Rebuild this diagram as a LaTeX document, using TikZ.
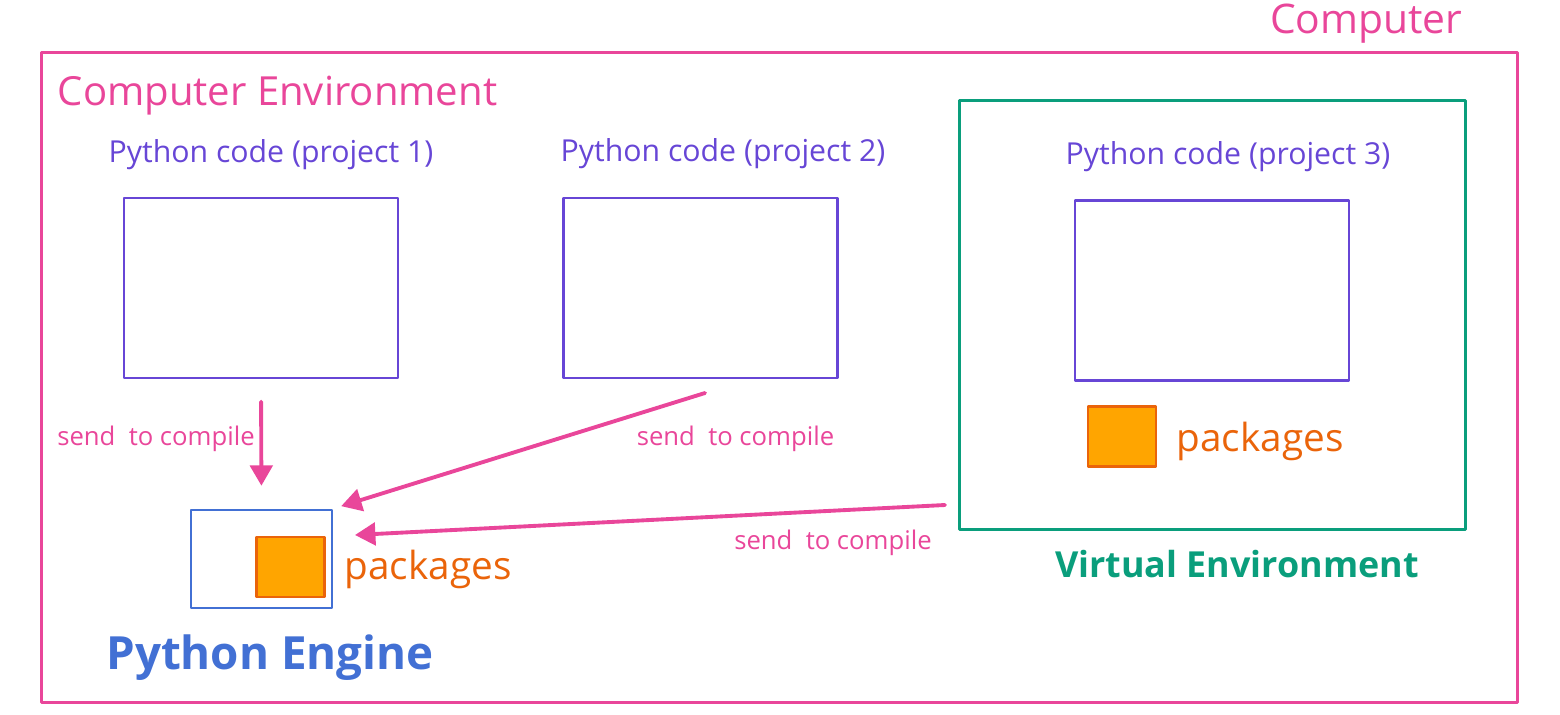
\documentclass[tikz,border=0pt]{standalone}
\usepackage{fontspec}
\setmainfont{Open Sans}
\usetikzlibrary{arrows.meta}
\definecolor{comppink}{RGB}{233,70,154}
\definecolor{codeviolet}{RGB}{103,70,214}
\definecolor{engblue}{RGB}{66,112,212}
\definecolor{envgreen}{RGB}{10,158,124}
\definecolor{pkgfill}{RGB}{255,165,0}
\definecolor{pkgline}{RGB}{234,100,10}
\tikzset{
  codebox/.style={draw=codeviolet, line width=0.8pt, minimum width=2.74cm, minimum height=1.8cm, inner sep=0pt},
  codelbl/.style={text=codeviolet, inner sep=0pt, font=\fontsize{8.6}{10}\selectfont},
  pkgbox/.style={draw=pkgline, fill=pkgfill, line width=0.6pt, minimum width=0.68cm, minimum height=0.6cm, inner sep=0pt},
  pkglbl/.style={text=pkgline, inner sep=0pt, anchor=west, font=\fontsize{11}{13}\selectfont},
  sendarrow/.style={draw=comppink, line width=1.1pt, -{Triangle[length=5.8pt,width=6.4pt]}},
  sendlbl/.style={text=comppink, inner sep=0pt, font=\fontsize{7.3}{9}\selectfont},
}
\begin{document}
\begin{tikzpicture}[x=0.01cm, y=-0.01cm, line cap=round, line join=round]
  \useasboundingbox (0,0) rectangle (1560,715);
  % computer and its environment
  \node[draw=comppink, line width=0.9pt, minimum width=14.75cm, minimum height=6.49cm, inner sep=0pt] (computer) at (779.5,377.5) {};
  \node[text=comppink, inner sep=0pt, anchor=east, font=\fontsize{11.6}{14}\selectfont] (computerlbl) at (1463,24) {Computer};
  \node[text=comppink, inner sep=0pt, anchor=west, font=\fontsize{11.4}{14}\selectfont] (envlbl) at (57,96) {Computer Environment};
  % virtual environment
  \node[draw=envgreen, line width=0.8pt, minimum width=5.05cm, minimum height=4.28cm, inner sep=0pt] (venv) at (1212.5,315) {};
  \node[text=envgreen, inner sep=0pt, font=\fontsize{10.2}{12}\selectfont\bfseries] (venvlbl) at (1237,564) {Virtual Environment};
  % python code boxes
  \foreach \n/\cx/\cy/\lx/\ly in {1/261/288/271/155, 2/700.5/288/723/154, 3/1212/290.5/1228/157}{
    \node[codebox] (code\n) at (\cx,\cy) {};
    \node[codelbl] (code\n lbl) at (\lx,\ly) {Python code (project \n)};
  }
  % packages
  \node[pkgbox] (venvpkg) at (1122,436.5) {};
  \node[pkglbl] (venvpkglbl) at (1176,441) {packages};
  \node[draw=engblue, line width=0.8pt, minimum width=1.41cm, minimum height=0.98cm, inner sep=0pt] (engine) at (261.5,559) {};
  \node[pkgbox] (enginepkg) at (290.5,567) {};
  \node[pkglbl] (enginepkglbl) at (344,569) {packages};
  \node[text=engblue, inner sep=0pt, font=\fontsize{13}{16}\selectfont\bfseries] (enginelbl) at (270,658) {Python Engine};
  % send to compile
  \coordinate (from2) at (705,393);
  \coordinate (from3) at (945,505);
  \coordinate (to3) at (355,535);
  \draw[sendarrow, shorten <=6.3pt, shorten >=6.5pt] (code1.south) -- (engine.north);
  \draw[sendarrow, shorten >=2.3pt] (from2) -- (engine.north east);
  \draw[sendarrow] (from3) -- (to3);
  \node[sendlbl] (send1) at (156,439) {send\ \ to compile};
  \node[sendlbl] (send2) at (735.5,439) {send\ \ to compile};
  \node[sendlbl] (send3) at (833,543) {send\ \ to compile};
\end{tikzpicture}
\end{document}
